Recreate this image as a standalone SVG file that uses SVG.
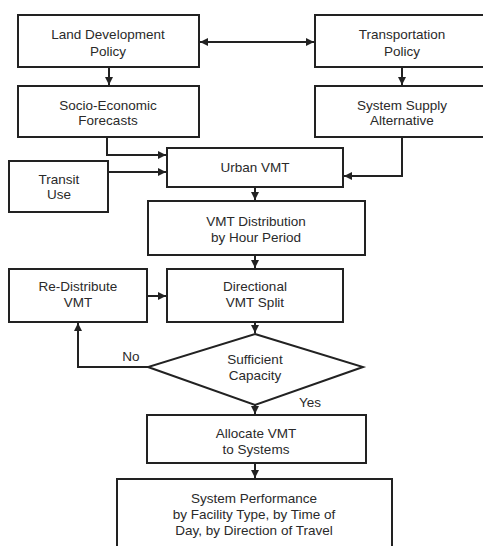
<svg xmlns="http://www.w3.org/2000/svg" width="483" height="546" viewBox="0 0 483 546">
<style>
.box{fill:#fff;stroke:#222;stroke-width:2}
.ln{fill:none;stroke:#222;stroke-width:2}
text{font-family:"Liberation Sans",Arial,sans-serif;font-size:13.5px;fill:#2a2a2a;text-anchor:middle}
</style>
<defs>
<marker id="ah" viewBox="0 0 10 10" refX="10" refY="5" markerWidth="4" markerHeight="4" orient="auto-start-reverse" markerUnits="strokeWidth">
<path d="M0,0 L10,5 L0,10 Z" fill="#222"/>
</marker>
</defs>
<rect width="483" height="546" fill="#fff"/>
<g id="connectors">
<path class="ln" d="M200,42 H314" marker-start="url(#ah)" marker-end="url(#ah)"/>
<path class="ln" d="M109,67 V85" marker-end="url(#ah)"/>
<path class="ln" d="M402,67 V85" marker-end="url(#ah)"/>
<path class="ln" d="M107,137 V155 H166" marker-end="url(#ah)"/>
<path class="ln" d="M108,172 H166" marker-end="url(#ah)"/>
<path class="ln" d="M402,137 V176 H344" marker-end="url(#ah)"/>
<path class="ln" d="M255,187 V200" marker-end="url(#ah)"/>
<path class="ln" d="M255,255 V268" marker-end="url(#ah)"/>
<path class="ln" d="M147,296 H166" marker-end="url(#ah)"/>
<path class="ln" d="M255,322 V333" marker-end="url(#ah)"/>
<path class="ln" d="M148,367 H78 V323" marker-end="url(#ah)"/>
<path class="ln" d="M255,405 V414" marker-end="url(#ah)"/>
<path class="ln" d="M255,463 V478" marker-end="url(#ah)"/>
</g>
<g id="land">
<rect class="box" x="18" y="15" width="181" height="52"/>
<text x="108" y="39">Land Development</text>
<text x="108" y="56">Policy</text>
</g>
<g id="transport">
<rect class="box" x="315" y="15" width="176" height="52"/>
<text x="402" y="39">Transportation</text>
<text x="402" y="56">Policy</text>
</g>
<g id="socio">
<rect class="box" x="18" y="86" width="181" height="51"/>
<text x="108" y="110">Socio-Economic</text>
<text x="108" y="125">Forecasts</text>
</g>
<g id="supply">
<rect class="box" x="315" y="86" width="176" height="51"/>
<text x="402" y="110">System Supply</text>
<text x="402" y="125">Alternative</text>
</g>
<g id="urban">
<rect class="box" x="167" y="148" width="176" height="39"/>
<text x="255" y="172">Urban VMT</text>
</g>
<g id="transit">
<rect class="box" x="9" y="161" width="99" height="51"/>
<text x="59" y="184">Transit</text>
<text x="59" y="199">Use</text>
</g>
<g id="distribution">
<rect class="box" x="148" y="201" width="217" height="54"/>
<text x="256" y="226">VMT Distribution</text>
<text x="256" y="242">by Hour Period</text>
</g>
<g id="redistribute">
<rect class="box" x="9" y="269" width="138" height="53"/>
<text x="78" y="291">Re-Distribute</text>
<text x="78" y="307">VMT</text>
</g>
<g id="directional">
<rect class="box" x="167" y="269" width="176" height="53"/>
<text x="255" y="291">Directional</text>
<text x="255" y="307">VMT Split</text>
</g>
<g id="capacity">
<path class="box" d="M255,334 L363,367 L255,405 L148,367 Z"/>
<text x="255" y="364">Sufficient</text>
<text x="255" y="380">Capacity</text>
</g>
<text x="131" y="361">No</text>
<text x="310" y="407">Yes</text>
<g id="allocate">
<rect class="box" x="147" y="415" width="219" height="48"/>
<text x="256" y="438">Allocate VMT</text>
<text x="256" y="454">to Systems</text>
</g>
<g id="performance">
<rect class="box" x="117" y="479" width="275" height="80"/>
<text x="254" y="503">System Performance</text>
<text x="254" y="519">by Facility Type, by Time of</text>
<text x="254" y="535">Day, by Direction of Travel</text>
</g>
</svg>
